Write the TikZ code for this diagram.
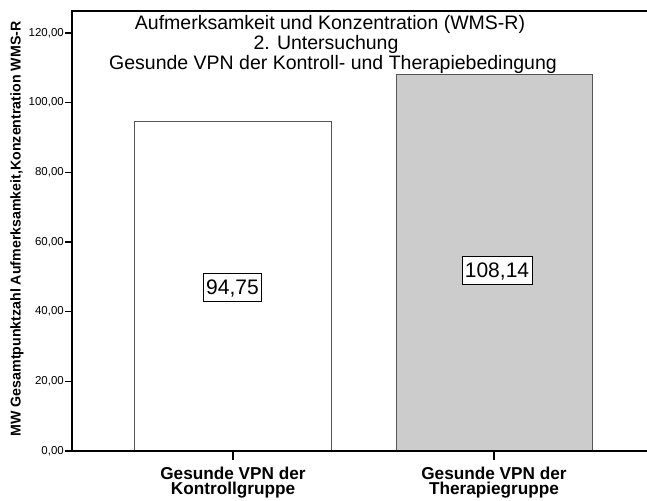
\documentclass[tikz,border=0pt]{standalone}
\usepackage{fontspec}
\setmainfont{Liberation Sans}
\definecolor{barfill}{HTML}{CCCCCC}
\definecolor{baredge}{HTML}{555555}
\begin{document}
\begin{tikzpicture}[x=1pt,y=-1pt,
  axis/.style={black,line width=1.2pt},
  tick/.style={black,line width=1.2pt},
  ticklabel/.style={anchor=east,inner sep=0pt,font=\fontsize{11.5}{12}\selectfont},
  bar/.style={draw=baredge,line width=0.9pt},
  vallabel/.style={draw=black,fill=white,line width=0.7pt,font=\fontsize{21}{22}\selectfont,
     inner xsep=3pt,inner ysep=6.5pt,text height=15pt,text depth=0pt},
  catlabel/.style={anchor=base,inner sep=0pt,font=\bfseries\fontsize{17.2}{18}\selectfont},
  catfirst/.style={catlabel,text depth=0pt},
  cat2/.style={catlabel,text height=12.3pt},
  titletext/.style={anchor=base,inner sep=0pt,font=\fontsize{19.5}{20}\selectfont}]
\useasboundingbox (0,0) rectangle (647,500);
\fill[white] (0,0) rectangle (647,500);
% bars
\draw[bar,fill=white] (134,451) rectangle (331,121);
\draw[bar,fill=barfill] (396,451) rectangle (592,74);
% axes
\coordinate (o) at (72,451);
\coordinate (tl) at (72,11);
\coordinate (tr) at (647,11);
\coordinate (br) at (647,451);
\draw[axis] (tr) -- (tl) -- (o) -- (br);
% y ticks
\foreach \v/\lab in {0/{0,00},20/{20,00},40/{40,00},60/{60,00},80/{80,00},100/{100,00},120/{120,00}}{
  \pgfmathsetmacro{\yy}{451-3.483*\v}
  \coordinate (t\v) at (72,\yy);
  \coordinate (s\v) at (65,\yy);
  \draw[tick] (t\v) -- (s\v);
  \node[ticklabel] (yl\v) at (64,\yy) {\lab};
}
% x ticks
\coordinate (xa) at (233,451);
\coordinate (xa2) at (233,460);
\coordinate (xb) at (494,451);
\coordinate (xb2) at (494,460);
\draw[tick] (xa) -- (xa2);
\draw[tick] (xb) -- (xb2);
% category labels
\node[catfirst] (c1a) at (233,479) {Gesunde VPN der};
\node[cat2] (c1b) at (233,494) {Kontrollgruppe};
\node[catfirst] (c2a) at (494,479) {Gesunde VPN der};
\node[cat2] (c2b) at (494,494) {Therapiegruppe};
% value labels
\node[vallabel] (v1) at (232.5,287) {94,75};
\node[vallabel] (v2) at (497,270) {108,14};
% title
\node[titletext] (title1) at (330,29.5) {Aufmerksamkeit und Konzentration (WMS-R)};
\node[titletext] (title2) at (326,49.5) {2. Untersuchung};
\node[titletext] (title3) at (333,69.5) {Gesunde VPN der Kontroll- und Therapiebedingung};
% y axis label
\node[rotate=90,inner sep=0pt,font=\bfseries\fontsize{14.2}{15}\selectfont] (ylab) at (17,229) {MW Gesamtpunktzahl Aufmerksamkeit,Konzentration WMS-R};
\end{tikzpicture}
\end{document}
